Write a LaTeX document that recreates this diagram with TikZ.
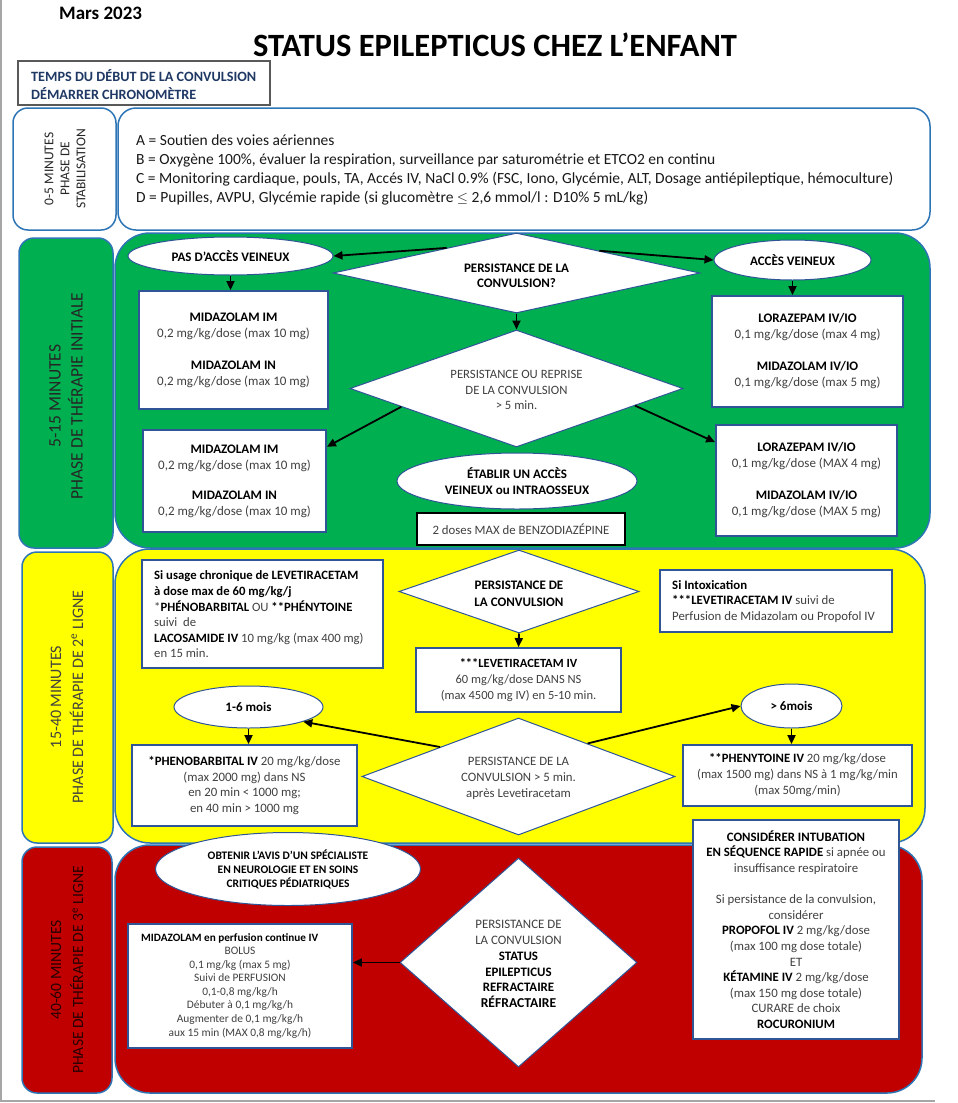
\documentclass[tikz,border=0pt]{standalone}
\usepackage{fontspec}
\setmainfont{Carlito}
\usepackage{graphicx}
\usetikzlibrary{shapes.geometric,arrows.meta,calc}
\definecolor{boxblue}{HTML}{2F5597}
\definecolor{rndblue}{HTML}{2E75B6}
\definecolor{grn}{HTML}{00B050}
\definecolor{ylw}{HTML}{FFFF00}
\definecolor{rd}{HTML}{C00000}
\definecolor{txg}{HTML}{404040}
\definecolor{navy}{HTML}{1F3864}
\newcommand\fs[2]{\fontsize{#1}{#2}\selectfont}
\newcommand\bk[1]{{\bfseries\color{black}#1}}
\begin{document}
\begin{tikzpicture}[x=1pt,y=-1pt,
  box/.style={draw=boxblue, line width=1.8pt, fill=white, inner sep=0pt, align=center, text=txg, font=\fs{13}{16}},
  oval/.style={ellipse, draw=boxblue, line width=1pt, fill=white, inner sep=0pt, align=center, font=\bfseries\fs{13}{16}},
  dmd/.style={diamond, draw=boxblue, line width=1pt, fill=white, inner sep=0pt},
  dtxt/.style={align=center, inner sep=0pt},
  ltxt/.style={anchor=west, align=left, inner sep=0pt},
  arr/.style={-{Triangle[length=9pt,width=8pt]}, line width=1.8pt, black},
  phase/.style={draw=rndblue, line width=1.5pt, rounded corners=15pt},
  big/.style={draw=rndblue, line width=1.5pt, rounded corners=35pt},
  ptxt/.style={rotate=90, align=center, inner sep=0pt, font=\fs{16}{22}}
]
\useasboundingbox (0,0) rectangle (958,1103);
\fill[white] (0,0) rectangle (958,1103);
\draw[black!35, line width=1.5pt] (1,0) -- (1,1101) -- (935,1101);

% header
\node[font=\bfseries\fs{19}{22}, anchor=west, inner sep=0pt] (mars) at (59,13) {Mars 2023};
\node[font=\bfseries\fs{32.5}{36}, inner sep=0pt] (title) at (495,45) {STATUS EPILEPTICUS CHEZ L’ENFANT};
\node[draw=black!65, line width=1.2pt, minimum width=252pt, minimum height=44pt, inner sep=0pt] (hdr) at (144,83) {};
\node[ltxt, font=\bfseries\fs{14.2}{18}, text=navy] (hdrt) at (31,85) {TEMPS DU DÉBUT DE LA CONVULSION\\DÉMARRER CHRONOMÈTRE};

% stabilisation
\draw[phase, fill=white] (13,108) rectangle (116,230);
\draw[phase, rounded corners=18pt, fill=white] (118,108) rectangle (930,230);
\node[rotate=90, align=center, inner sep=0pt, font=\fs{13.5}{16}, text=black!85] (p0) at (65,169) {0-5 MINUTES\\PHASE DE\\STABILISATION};
\node[ltxt, font=\fs{15.5}{19.2}, text=black!90] (abcd) at (136,170) {A = Soutien des voies aériennes\\
B = Oxygène 100\%, évaluer la respiration, surveillance par saturométrie et ETCO2 en continu\\
C = Monitoring cardiaque, pouls, TA, Accés IV, NaCl 0.9\% (FSC, Iono, Glycémie, ALT, Dosage antiépileptique, hémoculture)\\
D = Pupilles, AVPU, Glycémie rapide (si glucomètre $\leq$ 2,6 mmol/l : D10\% 5 mL/kg)};

% containers
\draw[phase, fill=grn] (19,238) rectangle (113,548);
\draw[big, fill=grn] (115,233) rectangle (930,548);
\draw[phase, fill=ylw] (22,552) rectangle (113,843);
\draw[big, fill=ylw] (115,549) rectangle (925,843);
\draw[phase, fill=rd] (22,847) rectangle (112,1093);
\draw[big, fill=rd] (115,845) rectangle (922,1093);

\node[ptxt, font=\fs{17.5}{22}, text=black!85] (p1) at (66,396) {5-15 MINUTES\\PHASE DE THÉRAPIE INITIALE};
\node[ptxt, text=black!75] (p2) at (67,697) {15-40 MINUTES\\PHASE DE THÉRAPIE DE 2\textsuperscript{e} LIGNE};
\node[ptxt, font=\fs{15.6}{22}, text=black!80!rd] (p3) at (67,970) {40-60 MINUTES\\PHASE DE THÉRAPIE DE 3\textsuperscript{e} LIGNE};

% ---------- green section
\node[dmd, minimum width=367pt, minimum height=80pt] (d1) at (516.5,273) {};
\node[dtxt, font=\bfseries\fs{13}{15.5}] (d1t) at (516.5,276) {PERSISTANCE DE LA\\CONVULSION?};
\node[oval, minimum width=205pt, minimum height=38pt] (pas) at (230.5,256) {PAS D’ACCÈS VEINEUX};
\node[oval, minimum width=157pt, minimum height=40pt] (acc) at (792.5,260) {ACCÈS VEINEUX};
\node[box, minimum width=189pt, minimum height=118pt] (midA) at (233.5,350) {\bk{MIDAZOLAM IM}\\0,2 mg/kg/dose (max 10 mg)\\[16pt]\bk{MIDAZOLAM IN}\\0,2 mg/kg/dose (max 10 mg)};
\node[box, minimum width=191pt, minimum height=111pt] (lorA) at (807.5,351.5) {\bk{LORAZEPAM IV/IO}\\0,1 mg/kg/dose (max 4 mg)\\[16pt]\bk{MIDAZOLAM IV/IO}\\0,1 mg/kg/dose (max 5 mg)};
\node[dmd, minimum width=333pt, minimum height=117pt] (d2) at (516.5,388.5) {};
\node[dtxt, font=\fs{12.7}{15.6}, text=txg] (d2t) at (516.5,390) {PERSISTANCE OU REPRISE\\DE LA CONVULSION\\> 5 min.};
\node[box, minimum width=183pt, minimum height=102pt] (midB) at (234.5,481) {\bk{MIDAZOLAM IM}\\0,2 mg/kg/dose (max 10 mg)\\[14pt]\bk{MIDAZOLAM IN}\\0,2 mg/kg/dose (max 10 mg)};
\node[box, minimum width=181pt, minimum height=111pt] (lorB) at (806.5,480.5) {\bk{LORAZEPAM IV/IO}\\0,1 mg/kg/dose (MAX 4 mg)\\[16pt]\bk{MIDAZOLAM IV/IO}\\0,1 mg/kg/dose (MAX 5 mg)};
\node[oval, minimum width=240pt, minimum height=56pt] (etab) at (517,481) {ÉTABLIR UN ACCÈS\\VEINEUX ou INTRAOSSEUX};
\node[draw=black, line width=2.5pt, fill=white, minimum width=208pt, minimum height=32pt, inner sep=0pt, font=\fs{12.8}{15}, text=txg] (dose2) at (521,529) {2 doses MAX de BENZODIAZÉPINE};

\draw[arr] ($(d1.north)!0.38!(d1.west)$) -- (pas.east);
\draw[arr] ($(d1.north)!0.45!(d1.east)$) -- (acc.west);
\draw[arr] (pas.south) -- (pas.south |- midA.north);
\draw[arr] (acc.south) -- (acc.south |- lorA.north);
\draw[arr] (d1.south) -- (d2.north);
\draw[arr] ($(d2.west)!0.31!(d2.south)$) -- ($(midB.north east)!0.17!(midB.south east)$);
\draw[arr] ($(d2.east)!0.29!(d2.south)$) -- ($(lorB.north west)!0.16!(lorB.south west)$);

% ---------- yellow section
\node[box, minimum width=241pt, minimum height=108pt] (usage) at (262.5,614) {};
\node[ltxt, font=\fs{12.7}{15.6}, text=txg] (usaget) at (154,614.5) {\bk{Si usage chronique de LEVETIRACETAM}\\
\bk{à dose max de 60 mg/kg/j}\\
{}*\bk{PHÉNOBARBITAL} OU \bk{**PHÉNYTOINE}\\
suivi~ de\\
\bk{LACOSAMIDE IV} 10 mg/kg (max 400 mg)\\
en 15 min.};
\node[dmd, minimum width=240pt, minimum height=83pt] (d3) at (519,591.5) {};
\node[dtxt, font=\bfseries\fs{13}{17}] (d3t) at (519,594) {PERSISTANCE DE\\LA CONVULSION};
\node[box, minimum width=232pt, minimum height=62pt] (intox) at (776,601) {};
\node[ltxt, font=\fs{12.8}{15.6}, text=txg] (intoxt) at (672,601.5) {\bk{Si Intoxication}\\
\bk{***LEVETIRACETAM IV} suivi de\\
Perfusion de Midazolam ou Propofol IV};
\node[box, minimum width=205pt, minimum height=64pt, font=\fs{12.5}{16}] (leve) at (518.5,680) {\bk{***LEVETIRACETAM IV}\\60 mg/kg/dose DANS NS\\(max 4500 mg IV) en 5-10 min.};
\node[dmd, minimum width=313pt, minimum height=117pt] (d4) at (518.5,776.5) {};
\node[dtxt, font=\fs{12.8}{16}, text=txg] (d4t) at (518.5,778) {PERSISTANCE DE LA\\CONVULSION > 5 min.\\après Levetiracetam};
\node[oval, minimum width=149pt, minimum height=42pt] (e16) at (248.5,707) {1-6 mois};
\node[oval, minimum width=101pt, minimum height=44pt] (e6) at (791.5,706) {> 6mois};
\node[box, minimum width=225pt, minimum height=81pt, font=\fs{12.8}{15.6}] (pheno) at (244.5,785.5) {\bk{*PHENOBARBITAL IV} 20 mg/kg/dose\\(max 2000 mg) dans NS\\en 20 min < 1000 mg;\\en 40 min > 1000 mg};
\node[box, minimum width=229pt, minimum height=61pt, font=\fs{12.7}{16}] (pheny) at (797.5,775.5) {\bk{**PHENYTOINE IV} 20 mg/kg/dose\\(max 1500 mg) dans NS à 1 mg/kg/min\\(max 50mg/min)};

\draw[arr] (d3.south) -- (leve.north);
\draw[arr] ($(d4.north)!0.5!(d4.west)$) -- (e16.-15);
\draw[arr] ($(d4.north)!0.44!(d4.east)$) -- (e6.west);
\draw[arr] (e16.south) -- (e16.south |- pheno.north);
\draw[arr] (e6.south) -- (e6.south |- pheny.north);

% ---------- red section
\node[oval, minimum width=265pt, minimum height=73pt, font=\bfseries\fs{11.5}{14}] (avis) at (288,869) {OBTENIR L’AVIS D’UN SPÉCIALISTE\\EN NEUROLOGIE ET EN SOINS\\CRITIQUES PÉDIATRIQUES};
\node[dmd, minimum width=237pt, minimum height=209pt] (d5) at (518.5,962.5) {};
\node[dtxt, font=\fs{12.9}{15.7}, text=txg] (d5t) at (518.5,964) {PERSISTANCE DE\\LA CONVULSION\\\bk{STATUS}\\\bk{EPILEPTICUS}\\\bk{REFRACTAIRE}\\{\fontsize{13.6}{15.7}\selectfont\bk{RÉFRACTAIRE}}};
\node[box, minimum width=224pt, minimum height=124pt] (midC) at (240,986) {};
\node[anchor=west, inner sep=0pt, font=\bfseries\fs{11.2}{13.6}] (midC1) at (141,938) {MIDAZOLAM en perfusion continue IV};
\node[dtxt, font=\fs{11.4}{13.6}, text=txg] (midC2) at (240,992.5) {BOLUS\\0,1 mg/kg (max 5 mg)\\Suivi de PERFUSION\\0,1-0,8 mg/kg/h\\Débuter à 0,1 mg/kg/h\\Augmenter de 0,1 mg/kg/h\\aux 15 min (MAX 0,8 mg/kg/h)};
\node[box, minimum width=206pt, minimum height=219pt, font=\fs{12.8}{15.6}] (intub) at (796,929.5) {\bk{CONSIDÉRER INTUBATION}\\
\bk{EN SÉQUENCE RAPIDE} si apnée ou\\
insuffisance respiratoire\\[15.6pt]
Si persistance de la convulsion,\\
considérer\\
\bk{PROPOFOL IV} 2 mg/kg/dose\\
(max 100 mg dose totale)\\
ET\\
\bk{KÉTAMINE IV} 2 mg/kg/dose\\
(max 150 mg dose totale)\\
CURARE de choix\\
\bk{ROCURONIUM}};

\draw[arr] (d5.west) -- (d5.west -| midC.east);
\end{tikzpicture}
\end{document}
